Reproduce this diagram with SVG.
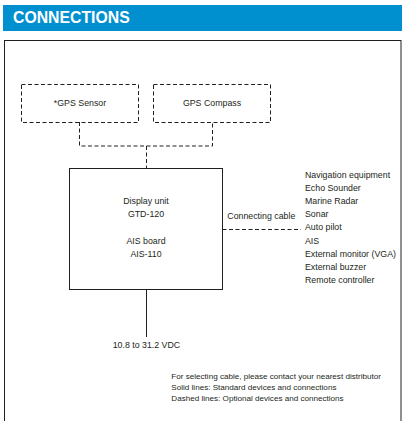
<svg xmlns="http://www.w3.org/2000/svg" width="403" height="421" viewBox="0 0 403 421">
<style>
.t{font-family:"Liberation Sans",Arial,sans-serif;font-size:8.8px;fill:#231f20}
.f{font-family:"Liberation Sans",Arial,sans-serif;font-size:8.1px;fill:#231f20}
.c{text-anchor:middle}
.dash{fill:none;stroke:#231f20;stroke-width:1;stroke-dasharray:4,2.5}
.solid{fill:none;stroke:#231f20;stroke-width:1}
</style>
<rect x="3" y="5" width="399" height="26" fill="#0090d0"/>
<text x="13" y="23.3" font-family="Liberation Sans,Arial,sans-serif" font-weight="bold" font-size="15.8" fill="#ffffff">CONNECTIONS</text>
<rect x="4.5" y="40.5" width="396.5" height="400" class="solid"/>
<g id="connectors">
<path class="dash" d="M79.5 122V146H212.5V122"/>
<path class="dash" d="M146.5 146V168.5"/>
<path class="dash" d="M222.5 229.5H301"/>
<path class="solid" d="M146.5 289.5V337"/>
</g>
<g id="gps-sensor">
<rect x="21.5" y="84.5" width="117" height="38" class="dash"/>
<text x="80" y="106" class="t c">*GPS Sensor</text>
</g>
<g id="gps-compass">
<rect x="153.5" y="84.5" width="117" height="38" class="dash"/>
<text x="212" y="106" class="t c">GPS Compass</text>
</g>
<g id="display-unit">
<rect x="69.5" y="168.5" width="153" height="121" class="solid"/>
<text x="146" y="203.5" class="t c">Display unit</text>
<text x="146" y="216.7" class="t c">GTD-120</text>
<text x="146" y="243.5" class="t c">AIS board</text>
<text x="146" y="256.7" class="t c">AIS-110</text>
</g>
<text x="227.3" y="218.5" class="t">Connecting cable</text>
<g id="external-devices">
<text x="305" y="177.7" class="t">Navigation equipment</text>
<text x="305" y="190.9" class="t">Echo Sounder</text>
<text x="305" y="204" class="t">Marine Radar</text>
<text x="305" y="217.2" class="t">Sonar</text>
<text x="305" y="230.3" class="t">Auto pilot</text>
<text x="305" y="243.5" class="t">AIS</text>
<text x="305" y="256.7" class="t">External monitor (VGA)</text>
<text x="305" y="269.8" class="t">External buzzer</text>
<text x="305" y="283" class="t">Remote controller</text>
</g>
<g id="power">
<text x="112.7" y="347.7" class="t">10.8 to 31.2 VDC</text>
</g>
<g id="notes">
<text x="171.3" y="379" class="f">For selecting cable, please contact your nearest distributor</text>
<text x="171.3" y="390" class="f">Solid lines: Standard devices and connections</text>
<text x="171.3" y="400.7" class="f">Dashed lines: Optional devices and connections</text>
</g>
</svg>
